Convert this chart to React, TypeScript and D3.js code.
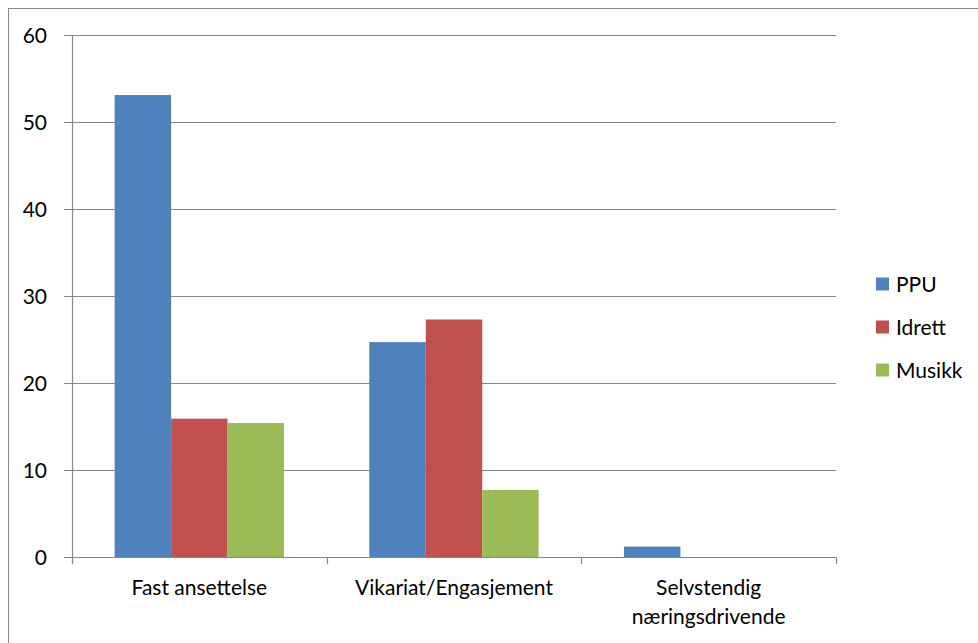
import { useRef, useEffect } from 'react';
import * as d3 from 'd3';

const CATEGORIES = ['Fast ansettelse', 'Vikariat/Engasjement', 'Selvstendig næringsdrivende'];
const SERIES = ['PPU', 'Idrett', 'Musikk'];
const PPU = [53.1, 24.7, 1.2];
const IDRETT = [15.9, 27.3, 0];
const MUSIKK = [15.4, 7.7, 0];
const Y_TICKS = [0, 10, 20, 30, 40, 50, 60];

const COLORS = ['#4F81BD', '#C0504D', '#9BBB59'];
const FONT = 'Lato, "Open Sans", sans-serif';
const FS = 21;

export default function App() {
  const svgRef = useRef<SVGSVGElement>(null);

  useEffect(() => {
    const svg = d3.select(svgRef.current);
    svg.selectAll('*').remove();

    const values = [PPU, IDRETT, MUSIKK];
    const left = 72, right = 836, top = 35, bottom = 557;

    const x = d3.scaleBand<string>().domain(CATEGORIES).range([left, right]);
    const inner = d3.scaleBand<string>().domain(SERIES).range([0, x.bandwidth()]).paddingOuter(0.755);
    const y = d3.scaleLinear().domain([0, 60]).range([bottom, top]);

    // outer frame
    svg.append('rect')
      .attr('x', 8.5).attr('y', 8.5).attr('width', 1000).attr('height', 1000)
      .attr('fill', 'none').attr('stroke', '#888').attr('stroke-width', 1);

    // gridlines + y ticks
    const g = svg.append('g');
    Y_TICKS.forEach(t => {
      const yy = Math.round(y(t)) + 0.5;
      g.append('line')
        .attr('x1', left - 8).attr('x2', right).attr('y1', yy).attr('y2', yy)
        .attr('stroke', '#888').attr('stroke-width', 1.2);
      g.append('text')
        .attr('x', 47).attr('y', yy).attr('dy', '0.36em')
        .attr('text-anchor', 'end')
        .attr('font-family', FONT).attr('font-size', FS).attr('fill', '#000')
        .text(t);
    });

    // bars
    SERIES.forEach((s, si) => {
      svg.append('g').selectAll('rect')
        .data(CATEGORIES.map((c, ci) => ({ c, v: values[si][ci] })))
        .join('rect')
        .attr('x', d => x(d.c)! + inner(s)!)
        .attr('width', inner.bandwidth())
        .attr('y', d => y(d.v))
        .attr('height', d => y(0) - y(d.v))
        .attr('fill', COLORS[si]);
    });

    // axes lines
    svg.append('line')
      .attr('x1', left + 0.5).attr('x2', left + 0.5).attr('y1', top).attr('y2', bottom + 6)
      .attr('stroke', '#888').attr('stroke-width', 1.2);
    svg.append('line')
      .attr('x1', left - 8).attr('x2', right).attr('y1', bottom + 0.5).attr('y2', bottom + 0.5)
      .attr('stroke', '#888').attr('stroke-width', 1.2);
    [...CATEGORIES.map(c => x(c)!), right].forEach(xx => {
      svg.append('line')
        .attr('x1', Math.round(xx) + 0.5).attr('x2', Math.round(xx) + 0.5)
        .attr('y1', bottom).attr('y2', bottom + 7)
        .attr('stroke', '#888').attr('stroke-width', 1.2);
    });

    // category labels
    CATEGORIES.forEach(c => {
      const cx = x(c)! + x.bandwidth() / 2;
      const lines = c === 'Selvstendig næringsdrivende' ? ['Selvstendig', 'næringsdrivende'] : [c];
      lines.forEach((ln, i) => {
        svg.append('text')
          .attr('x', cx).attr('y', 587 + i * 29).attr('dy', '0.36em')
          .attr('text-anchor', 'middle')
          .attr('font-family', FONT).attr('font-size', FS).attr('fill', '#000')
          .text(ln);
      });
    });

    // legend
    SERIES.forEach((s, i) => {
      const ly = 284 + i * 43;
      svg.append('rect')
        .attr('x', 876).attr('y', ly - 6.5).attr('width', 13).attr('height', 13)
        .attr('fill', COLORS[i]);
      svg.append('text')
        .attr('x', 896).attr('y', ly).attr('dy', '0.36em')
        .attr('font-family', FONT).attr('font-size', FS).attr('fill', '#000')
        .text(s);
    });
  }, []);

  return (
    <svg
      ref={svgRef}
      width={978}
      height={643}
      style={{ position: 'absolute', left: 0, top: 0, background: '#fff' }}
    />
  );
}
